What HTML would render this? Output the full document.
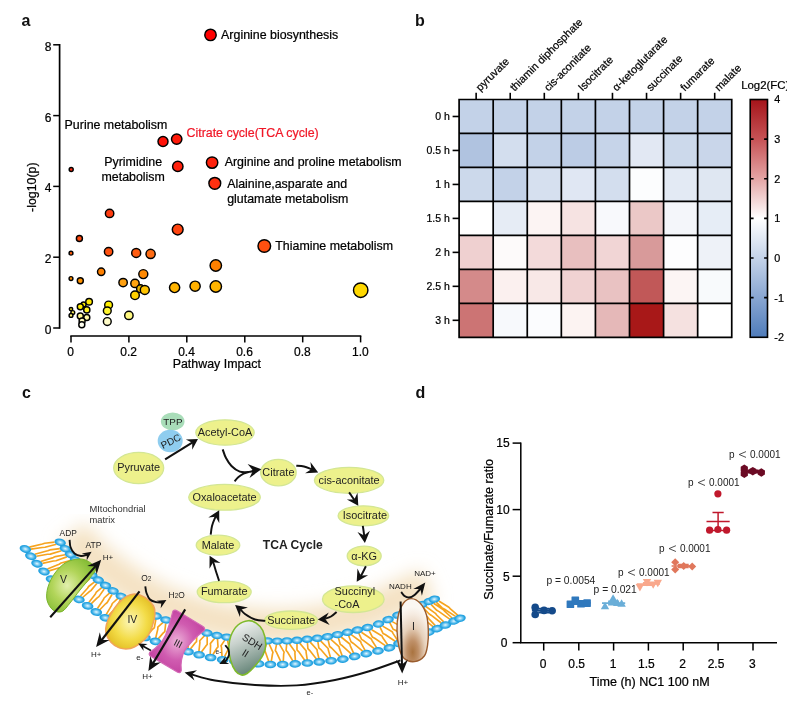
<!DOCTYPE html>
<html><head><meta charset="utf-8"><title>Figure</title>
<style>
html,body{margin:0;padding:0;background:#fff;}
body{width:787px;height:701px;overflow:hidden;font-family:"Liberation Sans",sans-serif;}
svg{display:block;font-family:"Liberation Sans",sans-serif;}
#pa text,#pb text,#pd text{stroke:#000;stroke-width:0.22px;}
</style></head><body>
<svg width="787" height="701" viewBox="0 0 787 701" fill="#000" style="will-change:transform">
<rect width="787" height="701" fill="#fff"/>
<g id="pa">
<text x="21.5" y="26.3" font-size="16" font-weight="bold" fill="#111" style="stroke:none">a</text>
<path d="M59.6 43.9V328.7" stroke="#000" stroke-width="1.7" fill="none"/>
<path d="M53.2 328.0H59.6" stroke="#000" stroke-width="1.5"/>
<text x="51.4" y="333.9" font-size="12" text-anchor="end">0</text>
<path d="M53.2 257.2H59.6" stroke="#000" stroke-width="1.5"/>
<text x="51.4" y="263.1" font-size="12" text-anchor="end">2</text>
<path d="M53.2 186.4H59.6" stroke="#000" stroke-width="1.5"/>
<text x="51.4" y="192.3" font-size="12" text-anchor="end">4</text>
<path d="M53.2 115.6H59.6" stroke="#000" stroke-width="1.5"/>
<text x="51.4" y="121.5" font-size="12" text-anchor="end">6</text>
<path d="M53.2 44.8H59.6" stroke="#000" stroke-width="1.5"/>
<text x="51.4" y="50.7" font-size="12" text-anchor="end">8</text>
<path d="M70.3 336H361.3" stroke="#000" stroke-width="1.5" fill="none"/>
<path d="M71.0 336V342.4" stroke="#000" stroke-width="1.5"/>
<text x="70.7" y="356.0" font-size="12" text-anchor="middle">0</text>
<path d="M128.9 336V342.4" stroke="#000" stroke-width="1.5"/>
<text x="128.6" y="356.0" font-size="12" text-anchor="middle">0.2</text>
<path d="M186.8 336V342.4" stroke="#000" stroke-width="1.5"/>
<text x="186.5" y="356.0" font-size="12" text-anchor="middle">0.4</text>
<path d="M244.8 336V342.4" stroke="#000" stroke-width="1.5"/>
<text x="244.5" y="356.0" font-size="12" text-anchor="middle">0.6</text>
<path d="M302.7 336V342.4" stroke="#000" stroke-width="1.5"/>
<text x="302.4" y="356.0" font-size="12" text-anchor="middle">0.8</text>
<path d="M360.6 336V342.4" stroke="#000" stroke-width="1.5"/>
<text x="360.3" y="356.0" font-size="12" text-anchor="middle">1.0</text>
<text x="216.8" y="368.1" font-size="12.4" text-anchor="middle">Pathway Impact</text>
<text transform="translate(36.1,187.2) rotate(-90)" font-size="12.4" text-anchor="middle">-log10(p)</text>
<circle cx="210.5" cy="34.9" r="5.70" fill="#ff0000" stroke="#000" stroke-width="1.45"/>
<circle cx="163.0" cy="141.5" r="5.00" fill="#ff1208" stroke="#000" stroke-width="1.45"/>
<circle cx="176.7" cy="139.1" r="5.20" fill="#ff1a0a" stroke="#000" stroke-width="1.45"/>
<circle cx="177.8" cy="166.4" r="5.20" fill="#ff200c" stroke="#000" stroke-width="1.45"/>
<circle cx="212.1" cy="162.6" r="5.70" fill="#ff220c" stroke="#000" stroke-width="1.45"/>
<circle cx="214.8" cy="183.3" r="5.90" fill="#ff3010" stroke="#000" stroke-width="1.45"/>
<circle cx="71.2" cy="169.5" r="2.00" fill="#ff2a10" stroke="#000" stroke-width="1.45"/>
<circle cx="109.6" cy="213.4" r="4.20" fill="#ff3c10" stroke="#000" stroke-width="1.45"/>
<circle cx="177.7" cy="229.5" r="5.40" fill="#ff4510" stroke="#000" stroke-width="1.45"/>
<circle cx="79.4" cy="238.4" r="3.00" fill="#ff4a10" stroke="#000" stroke-width="1.45"/>
<circle cx="264.3" cy="246.0" r="6.30" fill="#ff5010" stroke="#000" stroke-width="1.45"/>
<circle cx="71.0" cy="253.2" r="1.90" fill="#ff5a08" stroke="#000" stroke-width="1.45"/>
<circle cx="108.6" cy="251.7" r="4.20" fill="#ff5210" stroke="#000" stroke-width="1.45"/>
<circle cx="136.2" cy="252.9" r="4.50" fill="#ff5c10" stroke="#000" stroke-width="1.45"/>
<circle cx="150.6" cy="253.9" r="4.60" fill="#ff6c14" stroke="#000" stroke-width="1.45"/>
<circle cx="215.8" cy="265.5" r="5.70" fill="#ff8000" stroke="#000" stroke-width="1.45"/>
<circle cx="101.2" cy="271.8" r="3.70" fill="#ff8000" stroke="#000" stroke-width="1.45"/>
<circle cx="143.3" cy="274.1" r="4.50" fill="#ff8800" stroke="#000" stroke-width="1.45"/>
<circle cx="71.0" cy="278.5" r="1.90" fill="#ff9000" stroke="#000" stroke-width="1.45"/>
<circle cx="80.3" cy="280.8" r="3.00" fill="#ff9200" stroke="#000" stroke-width="1.45"/>
<circle cx="123.1" cy="282.6" r="4.20" fill="#ffa010" stroke="#000" stroke-width="1.45"/>
<circle cx="135.0" cy="283.4" r="4.20" fill="#ffa410" stroke="#000" stroke-width="1.45"/>
<circle cx="140.5" cy="288.7" r="3.90" fill="#e8b400" stroke="#000" stroke-width="1.45"/>
<circle cx="144.8" cy="289.9" r="4.50" fill="#ffc400" stroke="#000" stroke-width="1.45"/>
<circle cx="135.0" cy="295.3" r="4.30" fill="#ffd000" stroke="#000" stroke-width="1.45"/>
<circle cx="174.6" cy="287.5" r="5.10" fill="#ffb400" stroke="#000" stroke-width="1.45"/>
<circle cx="195.1" cy="286.2" r="5.10" fill="#ffb000" stroke="#000" stroke-width="1.45"/>
<circle cx="215.8" cy="286.5" r="5.70" fill="#ffb400" stroke="#000" stroke-width="1.45"/>
<circle cx="360.7" cy="290.2" r="7.20" fill="#ffd800" stroke="#000" stroke-width="1.45"/>
<circle cx="83.6" cy="304.4" r="2.50" fill="#ffee00" stroke="#000" stroke-width="1.45"/>
<circle cx="89.1" cy="301.7" r="3.30" fill="#ffe800" stroke="#000" stroke-width="1.45"/>
<circle cx="80.3" cy="306.7" r="3.00" fill="#ffee00" stroke="#000" stroke-width="1.45"/>
<circle cx="86.8" cy="309.9" r="3.10" fill="#fff020" stroke="#000" stroke-width="1.45"/>
<circle cx="71.0" cy="309.1" r="1.70" fill="#ffee20" stroke="#000" stroke-width="1.45"/>
<circle cx="72.8" cy="312.5" r="1.90" fill="#fff260" stroke="#000" stroke-width="1.45"/>
<circle cx="71.0" cy="315.4" r="1.90" fill="#fff470" stroke="#000" stroke-width="1.45"/>
<circle cx="80.3" cy="315.9" r="3.00" fill="#fff690" stroke="#000" stroke-width="1.45"/>
<circle cx="86.8" cy="317.5" r="3.00" fill="#fff8a8" stroke="#000" stroke-width="1.45"/>
<circle cx="82.1" cy="321.0" r="3.00" fill="#fffac0" stroke="#000" stroke-width="1.45"/>
<circle cx="81.8" cy="324.8" r="3.00" fill="#fffff0" stroke="#000" stroke-width="1.45"/>
<circle cx="108.6" cy="305.0" r="3.90" fill="#ffee00" stroke="#000" stroke-width="1.45"/>
<circle cx="107.3" cy="310.8" r="3.90" fill="#fff530" stroke="#000" stroke-width="1.45"/>
<circle cx="107.3" cy="321.5" r="3.90" fill="#fffcc8" stroke="#000" stroke-width="1.45"/>
<circle cx="128.9" cy="315.4" r="4.20" fill="#fff880" stroke="#000" stroke-width="1.45"/>
<text x="221.1" y="38.5" font-size="12.4">Arginine biosynthesis</text>
<text x="64.6" y="128.9" font-size="12.4">Purine metabolism</text>
<text x="186.5" y="136.7" font-size="12.4" fill="#f01828" style="stroke:#f01828">Citrate cycle(TCA cycle)</text>
<text x="133.2" y="166" font-size="12.4" text-anchor="middle">Pyrimidine</text>
<text x="133.2" y="180.9" font-size="12.4" text-anchor="middle">metabolism</text>
<text x="224.7" y="166" font-size="12.4">Arginine and proline metabolism</text>
<text x="227.2" y="187.6" font-size="12.4">Alainine,asparate and</text>
<text x="227.2" y="202.7" font-size="12.4">glutamate metabolism</text>
<text x="275.3" y="249.5" font-size="12.4">Thiamine metabolism</text>
</g>
<g id="pb">
<text x="415" y="26.3" font-size="16" font-weight="bold" fill="#111" style="stroke:none">b</text>
<rect x="459.10" y="99.50" width="34.08" height="33.97" fill="#c3d2e8"/>
<rect x="493.18" y="99.50" width="34.08" height="33.97" fill="#c3d2e8"/>
<rect x="527.26" y="99.50" width="34.08" height="33.97" fill="#c3d2e8"/>
<rect x="561.34" y="99.50" width="34.08" height="33.97" fill="#c3d2e8"/>
<rect x="595.42" y="99.50" width="34.08" height="33.97" fill="#c3d2e8"/>
<rect x="629.50" y="99.50" width="34.08" height="33.97" fill="#c3d2e8"/>
<rect x="663.58" y="99.50" width="34.08" height="33.97" fill="#c3d2e8"/>
<rect x="697.66" y="99.50" width="34.08" height="33.97" fill="#c3d2e8"/>
<rect x="459.10" y="133.47" width="34.08" height="33.97" fill="#b0c3e0"/>
<rect x="493.18" y="133.47" width="34.08" height="33.97" fill="#d3deee"/>
<rect x="527.26" y="133.47" width="34.08" height="33.97" fill="#c3d2e8"/>
<rect x="561.34" y="133.47" width="34.08" height="33.97" fill="#bccce5"/>
<rect x="595.42" y="133.47" width="34.08" height="33.97" fill="#c6d4e9"/>
<rect x="629.50" y="133.47" width="34.08" height="33.97" fill="#e2e8f3"/>
<rect x="663.58" y="133.47" width="34.08" height="33.97" fill="#ccd9eb"/>
<rect x="697.66" y="133.47" width="34.08" height="33.97" fill="#c9d6ea"/>
<rect x="459.10" y="167.44" width="34.08" height="33.97" fill="#ccd9eb"/>
<rect x="493.18" y="167.44" width="34.08" height="33.97" fill="#c3d2e8"/>
<rect x="527.26" y="167.44" width="34.08" height="33.97" fill="#d6e0ef"/>
<rect x="561.34" y="167.44" width="34.08" height="33.97" fill="#e0e7f3"/>
<rect x="595.42" y="167.44" width="34.08" height="33.97" fill="#d3deee"/>
<rect x="629.50" y="167.44" width="34.08" height="33.97" fill="#fcfdfe"/>
<rect x="663.58" y="167.44" width="34.08" height="33.97" fill="#e3eaf4"/>
<rect x="697.66" y="167.44" width="34.08" height="33.97" fill="#dfe7f2"/>
<rect x="459.10" y="201.41" width="34.08" height="33.97" fill="#ffffff"/>
<rect x="493.18" y="201.41" width="34.08" height="33.97" fill="#e6ecf5"/>
<rect x="527.26" y="201.41" width="34.08" height="33.97" fill="#fcf4f3"/>
<rect x="561.34" y="201.41" width="34.08" height="33.97" fill="#f6e3e2"/>
<rect x="595.42" y="201.41" width="34.08" height="33.97" fill="#f8f9fc"/>
<rect x="629.50" y="201.41" width="34.08" height="33.97" fill="#ebc8c7"/>
<rect x="663.58" y="201.41" width="34.08" height="33.97" fill="#f4f6fa"/>
<rect x="697.66" y="201.41" width="34.08" height="33.97" fill="#e6edf6"/>
<rect x="459.10" y="235.38" width="34.08" height="33.97" fill="#efd0d0"/>
<rect x="493.18" y="235.38" width="34.08" height="33.97" fill="#fdfafa"/>
<rect x="527.26" y="235.38" width="34.08" height="33.97" fill="#f3dada"/>
<rect x="561.34" y="235.38" width="34.08" height="33.97" fill="#e8bfbf"/>
<rect x="595.42" y="235.38" width="34.08" height="33.97" fill="#f1d5d5"/>
<rect x="629.50" y="235.38" width="34.08" height="33.97" fill="#d89a9a"/>
<rect x="663.58" y="235.38" width="34.08" height="33.97" fill="#fdfdfe"/>
<rect x="697.66" y="235.38" width="34.08" height="33.97" fill="#eef2f8"/>
<rect x="459.10" y="269.35" width="34.08" height="33.97" fill="#d48a8a"/>
<rect x="493.18" y="269.35" width="34.08" height="33.97" fill="#fbf0ef"/>
<rect x="527.26" y="269.35" width="34.08" height="33.97" fill="#f8e8e7"/>
<rect x="561.34" y="269.35" width="34.08" height="33.97" fill="#f0d2d2"/>
<rect x="595.42" y="269.35" width="34.08" height="33.97" fill="#e9c2c2"/>
<rect x="629.50" y="269.35" width="34.08" height="33.97" fill="#c15858"/>
<rect x="663.58" y="269.35" width="34.08" height="33.97" fill="#fcf5f4"/>
<rect x="697.66" y="269.35" width="34.08" height="33.97" fill="#f8fafc"/>
<rect x="459.10" y="303.32" width="34.08" height="33.97" fill="#cc7474"/>
<rect x="493.18" y="303.32" width="34.08" height="33.97" fill="#f7f9fc"/>
<rect x="527.26" y="303.32" width="34.08" height="33.97" fill="#fbfcfe"/>
<rect x="561.34" y="303.32" width="34.08" height="33.97" fill="#fcf3f2"/>
<rect x="595.42" y="303.32" width="34.08" height="33.97" fill="#e5b8b8"/>
<rect x="629.50" y="303.32" width="34.08" height="33.97" fill="#a81818"/>
<rect x="663.58" y="303.32" width="34.08" height="33.97" fill="#f5e1e0"/>
<rect x="697.66" y="303.32" width="34.08" height="33.97" fill="#ffffff"/>
<path d="M459.10 98.80V337.99M493.18 98.80V337.99M527.26 98.80V337.99M561.34 98.80V337.99M595.42 98.80V337.99M629.50 98.80V337.99M663.58 98.80V337.99M697.66 98.80V337.99M731.74 98.80V337.99M458.40 99.50H732.44M458.40 133.47H732.44M458.40 167.44H732.44M458.40 201.41H732.44M458.40 235.38H732.44M458.40 269.35H732.44M458.40 303.32H732.44M458.40 337.29H732.44" stroke="#000" stroke-width="1.7" fill="none"/>
<path d="M476.14 92.8V99.5" stroke="#000" stroke-width="1.6"/>
<text transform="translate(480.34,91.8) rotate(-45)" font-size="10.9">pyruvate</text>
<path d="M510.22 92.8V99.5" stroke="#000" stroke-width="1.6"/>
<text transform="translate(514.42,91.8) rotate(-45)" font-size="10.9">thiamin diphosphate</text>
<path d="M544.30 92.8V99.5" stroke="#000" stroke-width="1.6"/>
<text transform="translate(548.50,91.8) rotate(-45)" font-size="10.9">cis-aconitate</text>
<path d="M578.38 92.8V99.5" stroke="#000" stroke-width="1.6"/>
<text transform="translate(582.58,91.8) rotate(-45)" font-size="10.9">Isocitrate</text>
<path d="M612.46 92.8V99.5" stroke="#000" stroke-width="1.6"/>
<text transform="translate(616.66,91.8) rotate(-45)" font-size="10.9">α-ketoglutarate</text>
<path d="M646.54 92.8V99.5" stroke="#000" stroke-width="1.6"/>
<text transform="translate(650.74,91.8) rotate(-45)" font-size="10.9">succinate</text>
<path d="M680.62 92.8V99.5" stroke="#000" stroke-width="1.6"/>
<text transform="translate(684.82,91.8) rotate(-45)" font-size="10.9">fumarate</text>
<path d="M714.70 92.8V99.5" stroke="#000" stroke-width="1.6"/>
<text transform="translate(718.90,91.8) rotate(-45)" font-size="10.9">malate</text>
<path d="M452.6 116.48H459.1" stroke="#000" stroke-width="1.6"/>
<text x="449.8" y="120.28" font-size="10.5" text-anchor="end">0 h</text>
<path d="M452.6 150.45H459.1" stroke="#000" stroke-width="1.6"/>
<text x="449.8" y="154.25" font-size="10.5" text-anchor="end">0.5 h</text>
<path d="M452.6 184.43H459.1" stroke="#000" stroke-width="1.6"/>
<text x="449.8" y="188.23" font-size="10.5" text-anchor="end">1 h</text>
<path d="M452.6 218.39H459.1" stroke="#000" stroke-width="1.6"/>
<text x="449.8" y="222.19" font-size="10.5" text-anchor="end">1.5 h</text>
<path d="M452.6 252.37H459.1" stroke="#000" stroke-width="1.6"/>
<text x="449.8" y="256.17" font-size="10.5" text-anchor="end">2 h</text>
<path d="M452.6 286.33H459.1" stroke="#000" stroke-width="1.6"/>
<text x="449.8" y="290.13" font-size="10.5" text-anchor="end">2.5 h</text>
<path d="M452.6 320.31H459.1" stroke="#000" stroke-width="1.6"/>
<text x="449.8" y="324.11" font-size="10.5" text-anchor="end">3 h</text>
<defs><linearGradient id="cb" x1="0" y1="0" x2="0" y2="1"><stop offset="0" stop-color="#a5141a"/><stop offset="0.17" stop-color="#c75457"/><stop offset="0.33" stop-color="#e3a3a3"/><stop offset="0.5" stop-color="#ffffff"/><stop offset="0.67" stop-color="#c3d2e8"/><stop offset="0.83" stop-color="#8aa7d2"/><stop offset="1" stop-color="#4f7cba"/></linearGradient></defs>
<rect x="750.2" y="99.5" width="17.3" height="237.79" fill="url(#cb)" stroke="#000" stroke-width="1.6"/>
<text x="774.3" y="103.40" font-size="10.8">4</text>
<path d="M750.2 139.13h3.4M767.5 139.13h-3.4" stroke="#000" stroke-width="1.6"/>
<text x="774.3" y="143.03" font-size="10.8">3</text>
<path d="M750.2 178.76h3.4M767.5 178.76h-3.4" stroke="#000" stroke-width="1.6"/>
<text x="774.3" y="182.66" font-size="10.8">2</text>
<path d="M750.2 218.39h3.4M767.5 218.39h-3.4" stroke="#000" stroke-width="1.6"/>
<text x="774.3" y="222.29" font-size="10.8">1</text>
<path d="M750.2 258.03h3.4M767.5 258.03h-3.4" stroke="#000" stroke-width="1.6"/>
<text x="774.3" y="261.93" font-size="10.8">0</text>
<path d="M750.2 297.66h3.4M767.5 297.66h-3.4" stroke="#000" stroke-width="1.6"/>
<text x="774.3" y="301.56" font-size="10.8">-1</text>
<text x="774.3" y="341.19" font-size="10.8">-2</text>
<text x="741.2" y="89.4" font-size="11.4">Log2(FC)</text>
</g>
<g id="pc">
<defs><radialGradient id="lh" cx="0.5" cy="0.5" r="0.55"><stop offset="0" stop-color="#eaf9ff"/><stop offset="0.3" stop-color="#8fd4f5"/><stop offset="0.7" stop-color="#2aa6e2"/><stop offset="1" stop-color="#1c9bdc"/></radialGradient><filter id="bl" x="-20%" y="-20%" width="140%" height="140%"><feGaussianBlur stdDeviation="9"/></filter><radialGradient id="gV" cx="0.42" cy="0.5" r="0.6"><stop offset="0" stop-color="#e2efae"/><stop offset="0.5" stop-color="#b2d55a"/><stop offset="1" stop-color="#86bd36"/></radialGradient><radialGradient id="gIV" cx="0.5" cy="0.5" r="0.6"><stop offset="0" stop-color="#fcf6b8"/><stop offset="0.55" stop-color="#f3dc48"/><stop offset="1" stop-color="#e0b81c"/></radialGradient><radialGradient id="gIII" cx="0.5" cy="0.5" r="0.6"><stop offset="0" stop-color="#ecb0d8"/><stop offset="0.5" stop-color="#d05cb0"/><stop offset="1" stop-color="#bf3a9c"/></radialGradient><linearGradient id="gS" x1="0.3" y1="0" x2="0.6" y2="1"><stop offset="0" stop-color="#f4f6f4"/><stop offset="0.35" stop-color="#c9d2cd"/><stop offset="1" stop-color="#5e7f72"/></linearGradient><radialGradient id="gI" cx="0.5" cy="0.85" r="0.72"><stop offset="0" stop-color="#a9733f"/><stop offset="0.25" stop-color="#bf9068"/><stop offset="0.55" stop-color="#e6d0ba"/><stop offset="0.85" stop-color="#f6ece2"/><stop offset="1" stop-color="#fbf7f2"/></radialGradient></defs>
<text x="22" y="397.6" font-size="16" font-weight="bold" fill="#111">c</text>
<path d="M71.9 532.9L75.6 537.6L80.8 543.7L86.7 550.1L93.2 556.5L99.2 561.7L106.9 567.7L117.4 575.5L130.3 584.3L145.7 593.8L163.9 603L188.5 611.9L212.7 619.1L228.3 622.2L241.6 623.7L255.8 625.1L268.6 625.9L279.9 626.1L289.4 625.8L294.6 625.5L300.5 624.8L311 623.8L322.1 622.4L332.3 620.4L342.7 618L353.3 615.6L362.5 613.3L367.3 612.2L371.1 610.8L379.3 607.2L389.1 602.7L399 598.2L409 593.8L420 589L428.4 585.4" stroke="#f4e2c3" stroke-width="34" fill="none" filter="url(#bl)" stroke-linecap="butt"/>
<path d="M60.2 542.3L61.4 543.8L63.1 545.9L65.1 548.4L67.3 551.1L69.6 553.7L72 556.3L74.6 559.1L77.3 562L80.2 564.8L83 567.5L85.7 569.9L88.4 572.2L91.1 574.5L94.2 576.9L97.8 579.6L101.9 582.7L106.3 586L111.2 589.5L116.4 593.2L122.2 596.9L128.4 600.8L135 604.8L142 608.9L149.7 613L158 616.8L167.5 620.5L178.3 624.3L189.3 627.9L199.8 631L209 633.6L216.5 635.4L223 636.6L228.8 637.4L234.3 638L240 638.6L245.9 639.3L251.7 639.8L257.4 640.3L262.8 640.6L268 640.9L272.9 641L277.7 641.1L282.2 641L286.3 640.9L290 640.8L292.9 640.7L295 640.5L296.9 640.3L299.1 640L302 639.7L305.8 639.3L310.3 638.9L315.1 638.4L319.9 637.9L324.5 637.2L328.9 636.4L333.2 635.5L337.5 634.5L341.8 633.6L346 632.6L350.3 631.6L354.6 630.7L358.8 629.7L362.7 628.7L366.1 627.9L368.7 627.2L370.7 626.8L372.4 626.3L374.3 625.6L376.8 624.7L380 623.4L383.6 621.7L387.4 619.9L391.4 618.1L395.3 616.3L399.2 614.6L403.1 612.8L407.1 611L411.1 609.2L415 607.5L419.2 605.7L423.7 603.7L428 601.9L431.7 600.3L434.3 599.2L434.3 599.2L459.9 618.3L459.9 618.3L456.9 619.7L452.6 621.7L447.7 624L442.6 626.3L438 628.3L433.9 630L429.9 631.7L426 633.2L422 634.7L418 636.3L413.7 637.9L409.2 639.6L404.7 641.2L400.6 642.8L397.2 644.1L394.8 645.1L393.3 646L392.1 646.7L390.5 647.4L387.9 648.3L384.2 649.3L379.7 650.5L374.7 651.6L369.6 652.8L364.6 654L359.7 655.2L354.7 656.4L349.6 657.6L344.5 658.8L339.4 659.7L334 660.5L328.4 661.1L322.9 661.6L317.7 662L313.2 662.4L309.8 662.8L307.3 663L305.1 663.3L302.5 663.5L299 663.7L294.3 663.9L289 664.2L283.2 664.5L277.1 664.6L271 664.5L264.9 664.2L258.8 663.8L252.4 663.3L245.8 662.6L239 661.8L232.1 660.9L225.2 660L217.9 658.9L210.1 657.4L201.4 655.4L191.4 652.7L180.2 649.5L168.6 645.8L157.3 642.1L147 638.3L137.8 634.5L129.2 630.6L121.2 626.5L113.6 622.5L106.5 618.5L100 614.5L94.1 610.5L88.6 606.5L83.3 602.6L78.2 598.9L73.2 595.5L68.4 592.3L63.7 589.2L59.3 586L55 582.5L50.8 578.6L46.7 574.4L42.7 570.1L39.1 566.1L35.9 562.4L33.1 559.1L30.6 555.9L28.4 553.1L26.7 550.7L25.4 549Z" fill="#fff"/><path d="M56.4 544.3L45 547.3L42.2 547.5L30.9 549.1M54.6 542.1L44.7 543.2L42.4 544L29.3 547.1M61.5 550.8L50.3 554.1L47.5 554.3L36.3 556.2M59.8 548.6L49.9 549.9L47.7 550.8L34.7 554.2M66.8 556.9L56 560.7L53.3 561L42.4 563.4M65 554.8L55.4 556.6L53.2 557.6L40.7 561.5M72.2 562.6L62 567.2L59.4 567.7L49.1 570.9M70.2 560.6L61.1 563L59.1 564.2L47.4 569M77.7 568.2L68.4 573.6L66 574.3L56.4 578.3M75.7 566.2L67.2 569.4L65.4 570.7L54.5 576.5M83.7 573.4L75.5 579.5L73.2 580.4L64.6 585.2M81.5 571.7L73.8 575.5L72.2 576.9L62.6 583.5M90 578.4L83.1 585L81.1 586.1L73.7 591.4M87.7 576.7L81 581L79.7 582.6L71.6 589.9M96.8 583.5L90.9 590.6L89.1 591.8L82.6 597.5M94.6 581.8L88.6 586.5L87.5 588.2L80.5 596M104.2 589L98.9 596.6L97.2 597.8L91.1 603.8M102 587.3L96.3 592.2L95.4 594L89 602.3M112 594.5L107.2 602.5L105.6 603.8L99.6 610M109.7 592.9L104.1 598L103.3 599.8L97.4 608.5M120.3 599.8L116.1 608.1L114.4 609.4L108.5 615.6M117.9 598.4L112.3 603.5L111.6 605.4L106.3 614.3M128.7 605L125.2 613.4L123.6 614.7L117.9 620.9M126.3 603.6L120.8 608.6L120.3 610.5L115.6 619.6M137.4 610.2L134.5 618.6L133 619.8L127.5 626M134.9 608.9L129.6 613.8L129.2 615.7L125.2 624.7M146.4 615.1L144.2 623.4L142.7 624.7L137.4 630.7M143.9 613.9L138.6 618.7L138.3 620.5L135.1 629.6M155.8 619.5L154.3 627.8L152.8 629L147.7 635M153.3 618.4L148 623.2L147.9 625.1L145.3 634M165.7 623.4L164.8 631.6L163.3 632.9L158.2 638.9M163.1 622.4L157.8 627.2L157.8 629.1L155.7 638M176 627L175.3 635.2L173.9 636.5L168.8 642.5M173.3 626.1L168.1 631L168.1 632.8L166.4 641.7M186.4 630.4L185.9 638.5L184.5 639.8L179.6 645.9M183.7 629.6L178.5 634.5L178.6 636.2L177.1 645.1M196.8 633.5L196.5 641.6L195.1 643L190.4 649.1M194.1 632.8L189.1 637.7L189.2 639.5L187.9 648.3M207.2 636.5L207.2 644.5L205.9 645.9L201.4 652.1M204.5 635.7L199.7 640.8L199.9 642.6L198.9 651.4M217.5 638.9L218 646.9L216.8 648.3L212.8 654.7M214.7 638.3L210.3 643.6L210.6 645.3L210.2 654.2M227.6 640.4L229 648.5L227.9 650L224.5 656.7M224.8 640.1L221 645.7L221.5 647.4L222 656.4M237.8 641.5L240 649.7L239 651.3L236.4 658.3M235 641.2L231.7 647.1L232.4 648.8L233.8 658M248.1 642.7L250.9 651L250.2 652.6L248.1 659.7M245.4 642.4L242.6 648.4L243.4 650.2L245.5 659.5M258.7 643.5L262 651.8L261.3 653.5L259.6 660.8M255.9 643.3L253.5 649.5L254.4 651.3L257 660.6M269.2 644.1L273 652.3L272.5 654L271.3 661.4M266.4 644L264.4 650.3L265.4 652L268.7 661.3M279.4 644.2L284.1 652.2L283.7 653.9L283.3 661.3M276.6 644.2L275.3 650.6L276.5 652.3L280.7 661.4M289.5 643.9L295.1 651.7L294.9 653.4L295.4 660.8M286.7 644L286.1 650.4L287.5 652L292.8 660.9M299.7 643.1L306.1 650.7L306.1 652.4L307.3 659.9M297 643.5L297 650L298.6 651.6L304.7 660.2M310.2 642.1L317.1 649.7L317.2 651.4L319 658.8M307.4 642.3L307.9 648.7L309.6 650.3L316.4 659M320.6 640.9L328.1 648.5L328.4 650.3L330.6 657.7M317.8 641.2L318.8 647.8L320.6 649.3L328.1 658M330.9 639.3L339 646.6L339.4 648.4L342.2 655.9M328.1 639.8L329.6 646.5L331.6 648L339.7 656.4M341.1 637L349.8 644L350.3 645.8L353.7 653.3M338.4 637.7L340.3 644.4L342.4 645.8L351.2 653.9M351.2 634.7L360.6 641.5L361.2 643.3L365.2 650.6M348.5 635.3L351 641.8L353.1 643.2L362.6 651.2M361.4 632.3L371.3 639L372.1 640.7L376.7 647.9M358.7 633L361.6 639.4L363.9 640.8L374.1 648.5M371.7 629.7L382 636L382.8 637.8L387.8 644.9M369 630.5L372.3 636.9L374.7 638.2L385.3 645.6M382.6 626.1L392.2 631.7L393 633.4L397.5 640.3M380 627.1L383 633.4L385.2 634.5L395.1 641.3M392.3 621.6L402.5 627.4L403.3 629.2L408.3 636.2M389.7 622.7L393.1 629.2L395.4 630.3L405.9 637.2M402.1 617.1L411.2 623.7L412.4 625.4L419 632.2M399.5 618.2L404.7 624.2L406.9 625.6L416.6 633.2M410.1 613.5L419.3 620.3L420.6 622L427.2 629M407.6 614.6L412.8 620.8L415 622.1L424.8 630M418.2 609.9L427.4 616.8L428.7 618.6L435.3 625.6M415.6 611L420.9 617.3L423.1 618.7L433 626.7M425.9 606.5L435.4 613.3L436.7 615L443.7 621.9M423.4 607.7L428.9 613.8L431.1 615.2L441.3 623M433.6 603.3L443.4 609.7L444.8 611.4L452.1 618M431 604.4L436.8 610.3L439.1 611.6L449.7 619.1M438.8 601L448.9 607.3L450.4 608.9L457.9 615.4M436.2 602.2L442.2 607.9L444.6 609.2L455.5 616.4" stroke="#f6a41f" stroke-width="1.65" fill="none" stroke-linejoin="round"/><ellipse cx="60.2" cy="542.3" rx="5.8" ry="3.7" transform="rotate(15.2 60.2 542.3)" fill="url(#lh)"/><ellipse cx="25.4" cy="549" rx="5.9" ry="3.8" transform="rotate(15.6 25.4 549)" fill="url(#lh)"/><ellipse cx="65.3" cy="548.7" rx="5.8" ry="3.7" transform="rotate(15.2 65.3 548.7)" fill="url(#lh)"/><ellipse cx="30.8" cy="556.2" rx="5.9" ry="3.8" transform="rotate(15.7 30.8 556.2)" fill="url(#lh)"/><ellipse cx="70.4" cy="554.6" rx="5.8" ry="3.7" transform="rotate(14.3 70.4 554.6)" fill="url(#lh)"/><ellipse cx="37" cy="563.7" rx="5.9" ry="3.8" transform="rotate(14.6 37 563.7)" fill="url(#lh)"/><ellipse cx="75.5" cy="560.1" rx="5.8" ry="3.7" transform="rotate(13.9 75.5 560.1)" fill="url(#lh)"/><ellipse cx="44" cy="571.5" rx="5.9" ry="3.8" transform="rotate(14.3 44 571.5)" fill="url(#lh)"/><ellipse cx="80.7" cy="565.3" rx="5.8" ry="3.7" transform="rotate(13.2 80.7 565.3)" fill="url(#lh)"/><ellipse cx="51.5" cy="579.3" rx="5.9" ry="3.8" transform="rotate(13.1 51.5 579.3)" fill="url(#lh)"/><ellipse cx="86.2" cy="570.3" rx="5.8" ry="3.7" transform="rotate(12.3 86.2 570.3)" fill="url(#lh)"/><ellipse cx="60" cy="586.5" rx="5.9" ry="3.8" transform="rotate(11 60 586.5)" fill="url(#lh)"/><ellipse cx="91.9" cy="575.1" rx="5.8" ry="3.7" transform="rotate(11.5 91.9 575.1)" fill="url(#lh)"/><ellipse cx="69.6" cy="593.1" rx="5.9" ry="3.8" transform="rotate(10 69.6 593.1)" fill="url(#lh)"/><ellipse cx="98.3" cy="580" rx="5.8" ry="3.7" transform="rotate(11.1 98.3 580)" fill="url(#lh)"/><ellipse cx="78.9" cy="599.4" rx="5.9" ry="3.8" transform="rotate(10.6 78.9 599.4)" fill="url(#lh)"/><ellipse cx="105.5" cy="585.4" rx="5.8" ry="3.7" transform="rotate(11 105.5 585.4)" fill="url(#lh)"/><ellipse cx="87.6" cy="605.8" rx="5.9" ry="3.8" transform="rotate(11 87.6 605.8)" fill="url(#lh)"/><ellipse cx="113.1" cy="590.9" rx="5.8" ry="3.7" transform="rotate(10.4 113.1 590.9)" fill="url(#lh)"/><ellipse cx="96.3" cy="612" rx="5.9" ry="3.8" transform="rotate(10.3 96.3 612)" fill="url(#lh)"/><ellipse cx="121.2" cy="596.3" rx="5.8" ry="3.7" transform="rotate(9.6 121.2 596.3)" fill="url(#lh)"/><ellipse cx="105.3" cy="617.8" rx="5.9" ry="3.8" transform="rotate(9.1 105.3 617.8)" fill="url(#lh)"/><ellipse cx="129.5" cy="601.4" rx="5.8" ry="3.7" transform="rotate(9.6 129.5 601.4)" fill="url(#lh)"/><ellipse cx="114.8" cy="623.2" rx="5.9" ry="3.8" transform="rotate(8.6 114.8 623.2)" fill="url(#lh)"/><ellipse cx="138" cy="606.6" rx="5.8" ry="3.7" transform="rotate(9.1 138 606.6)" fill="url(#lh)"/><ellipse cx="124.6" cy="628.3" rx="5.9" ry="3.8" transform="rotate(8 124.6 628.3)" fill="url(#lh)"/><ellipse cx="146.8" cy="611.5" rx="5.8" ry="3.7" transform="rotate(8.2 146.8 611.5)" fill="url(#lh)"/><ellipse cx="134.6" cy="633.1" rx="5.9" ry="3.8" transform="rotate(7.3 134.6 633.1)" fill="url(#lh)"/><ellipse cx="156.1" cy="616" rx="5.8" ry="3.7" transform="rotate(7.1 156.1 616)" fill="url(#lh)"/><ellipse cx="144.9" cy="637.5" rx="5.9" ry="3.8" transform="rotate(6.5 144.9 637.5)" fill="url(#lh)"/><ellipse cx="165.9" cy="619.9" rx="5.8" ry="3.7" transform="rotate(6.2 165.9 619.9)" fill="url(#lh)"/><ellipse cx="155.5" cy="641.4" rx="5.9" ry="3.8" transform="rotate(5.9 155.5 641.4)" fill="url(#lh)"/><ellipse cx="176" cy="623.6" rx="5.8" ry="3.7" transform="rotate(5.6 176 623.6)" fill="url(#lh)"/><ellipse cx="166.2" cy="645.1" rx="5.9" ry="3.8" transform="rotate(5.4 166.2 645.1)" fill="url(#lh)"/><ellipse cx="186.3" cy="626.9" rx="5.8" ry="3.7" transform="rotate(5.3 186.3 626.9)" fill="url(#lh)"/><ellipse cx="177" cy="648.5" rx="5.9" ry="3.8" transform="rotate(5.1 177 648.5)" fill="url(#lh)"/><ellipse cx="196.7" cy="630.1" rx="5.8" ry="3.7" transform="rotate(5 196.7 630.1)" fill="url(#lh)"/><ellipse cx="188" cy="651.7" rx="5.9" ry="3.8" transform="rotate(4.8 188 651.7)" fill="url(#lh)"/><ellipse cx="206.9" cy="633" rx="5.8" ry="3.7" transform="rotate(4.5 206.9 633)" fill="url(#lh)"/><ellipse cx="199.1" cy="654.8" rx="5.9" ry="3.8" transform="rotate(4.4 199.1 654.8)" fill="url(#lh)"/><ellipse cx="217" cy="635.5" rx="5.8" ry="3.7" transform="rotate(3.5 217 635.5)" fill="url(#lh)"/><ellipse cx="210.6" cy="657.5" rx="5.9" ry="3.8" transform="rotate(3.5 210.6 657.5)" fill="url(#lh)"/><ellipse cx="226.8" cy="637.1" rx="5.8" ry="3.7" transform="rotate(2.2 226.8 637.1)" fill="url(#lh)"/><ellipse cx="222.7" cy="659.7" rx="5.9" ry="3.8" transform="rotate(2.5 222.7 659.7)" fill="url(#lh)"/><ellipse cx="236.6" cy="638.2" rx="5.8" ry="3.7" transform="rotate(1.9 236.6 638.2)" fill="url(#lh)"/><ellipse cx="234.9" cy="661.3" rx="5.9" ry="3.8" transform="rotate(2.1 234.9 661.3)" fill="url(#lh)"/><ellipse cx="246.7" cy="639.4" rx="5.8" ry="3.7" transform="rotate(1.7 246.7 639.4)" fill="url(#lh)"/><ellipse cx="246.8" cy="662.7" rx="5.9" ry="3.8" transform="rotate(1.9 246.8 662.7)" fill="url(#lh)"/><ellipse cx="257.1" cy="640.3" rx="5.8" ry="3.7" transform="rotate(1.3 257.1 640.3)" fill="url(#lh)"/><ellipse cx="258.5" cy="663.8" rx="5.9" ry="3.8" transform="rotate(1.3 258.5 663.8)" fill="url(#lh)"/><ellipse cx="267.5" cy="640.9" rx="5.8" ry="3.7" transform="rotate(0.8 267.5 640.9)" fill="url(#lh)"/><ellipse cx="270.4" cy="664.5" rx="5.9" ry="3.8" transform="rotate(0.6 270.4 664.5)" fill="url(#lh)"/><ellipse cx="277.3" cy="641.1" rx="5.8" ry="3.7" transform="rotate(-0 277.3 641.1)" fill="url(#lh)"/><ellipse cx="282.7" cy="664.5" rx="5.9" ry="3.8" transform="rotate(-0.5 282.7 664.5)" fill="url(#lh)"/><ellipse cx="287" cy="640.9" rx="5.8" ry="3.7" transform="rotate(-0.5 287 640.9)" fill="url(#lh)"/><ellipse cx="295.2" cy="663.9" rx="5.9" ry="3.8" transform="rotate(-0.9 295.2 663.9)" fill="url(#lh)"/><ellipse cx="297" cy="640.3" rx="5.8" ry="3.7" transform="rotate(-2.1 297 640.3)" fill="url(#lh)"/><ellipse cx="307.4" cy="663" rx="5.9" ry="3.8" transform="rotate(-2 307.4 663)" fill="url(#lh)"/><ellipse cx="307.2" cy="639.2" rx="5.8" ry="3.7" transform="rotate(-1.6 307.2 639.2)" fill="url(#lh)"/><ellipse cx="319.2" cy="661.9" rx="5.9" ry="3.8" transform="rotate(-1.4 319.2 661.9)" fill="url(#lh)"/><ellipse cx="317.4" cy="638.2" rx="5.8" ry="3.7" transform="rotate(-2 317.4 638.2)" fill="url(#lh)"/><ellipse cx="331.1" cy="660.8" rx="5.9" ry="3.8" transform="rotate(-1.8 331.1 660.8)" fill="url(#lh)"/><ellipse cx="327.5" cy="636.7" rx="5.8" ry="3.7" transform="rotate(-3.1 327.5 636.7)" fill="url(#lh)"/><ellipse cx="342.9" cy="659.1" rx="5.9" ry="3.8" transform="rotate(-3.3 342.9 659.1)" fill="url(#lh)"/><ellipse cx="337.5" cy="634.6" rx="5.8" ry="3.7" transform="rotate(-3.9 337.5 634.6)" fill="url(#lh)"/><ellipse cx="354.7" cy="656.4" rx="5.9" ry="3.8" transform="rotate(-4.1 354.7 656.4)" fill="url(#lh)"/><ellipse cx="347.5" cy="632.3" rx="5.8" ry="3.7" transform="rotate(-3.8 347.5 632.3)" fill="url(#lh)"/><ellipse cx="366.3" cy="653.6" rx="5.9" ry="3.8" transform="rotate(-3.9 366.3 653.6)" fill="url(#lh)"/><ellipse cx="357.4" cy="630" rx="5.8" ry="3.7" transform="rotate(-3.9 357.4 630)" fill="url(#lh)"/><ellipse cx="378" cy="650.9" rx="5.9" ry="3.8" transform="rotate(-4 378 650.9)" fill="url(#lh)"/><ellipse cx="367.5" cy="627.5" rx="5.8" ry="3.7" transform="rotate(-4.2 367.5 627.5)" fill="url(#lh)"/><ellipse cx="389.4" cy="647.8" rx="5.9" ry="3.8" transform="rotate(-5.8 389.4 647.8)" fill="url(#lh)"/><ellipse cx="378.5" cy="624" rx="5.8" ry="3.7" transform="rotate(-6.9 378.5 624)" fill="url(#lh)"/><ellipse cx="399" cy="643.4" rx="5.9" ry="3.8" transform="rotate(-6.3 399 643.4)" fill="url(#lh)"/><ellipse cx="388.1" cy="619.6" rx="5.8" ry="3.7" transform="rotate(-7.5 388.1 619.6)" fill="url(#lh)"/><ellipse cx="410" cy="639.3" rx="5.9" ry="3.8" transform="rotate(-6.1 410 639.3)" fill="url(#lh)"/><ellipse cx="397.9" cy="615.1" rx="5.8" ry="3.7" transform="rotate(-7.3 397.9 615.1)" fill="url(#lh)"/><ellipse cx="420.7" cy="635.2" rx="5.9" ry="3.8" transform="rotate(-6.3 420.7 635.2)" fill="url(#lh)"/><ellipse cx="406" cy="611.5" rx="5.8" ry="3.7" transform="rotate(-7.2 406 611.5)" fill="url(#lh)"/><ellipse cx="428.8" cy="632.1" rx="5.9" ry="3.8" transform="rotate(-6.5 428.8 632.1)" fill="url(#lh)"/><ellipse cx="414" cy="607.9" rx="5.8" ry="3.7" transform="rotate(-7.1 414 607.9)" fill="url(#lh)"/><ellipse cx="437" cy="628.7" rx="5.9" ry="3.8" transform="rotate(-6.9 437 628.7)" fill="url(#lh)"/><ellipse cx="421.7" cy="604.6" rx="5.8" ry="3.7" transform="rotate(-7 421.7 604.6)" fill="url(#lh)"/><ellipse cx="445.4" cy="625" rx="5.9" ry="3.8" transform="rotate(-7.3 445.4 625)" fill="url(#lh)"/><ellipse cx="429.2" cy="601.4" rx="5.8" ry="3.7" transform="rotate(-6.9 429.2 601.4)" fill="url(#lh)"/><ellipse cx="454" cy="621" rx="5.9" ry="3.8" transform="rotate(-7.5 454 621)" fill="url(#lh)"/><ellipse cx="434.3" cy="599.2" rx="5.8" ry="3.7" transform="rotate(-7 434.3 599.2)" fill="url(#lh)"/><ellipse cx="459.9" cy="618.3" rx="5.9" ry="3.8" transform="rotate(-7.4 459.9 618.3)" fill="url(#lh)"/>
<ellipse cx="172.7" cy="421.4" rx="11.8" ry="9" fill="#a9ddb9"/>
<text x="172.9" y="425.2" font-size="9.8" text-anchor="middle" fill="#222">TPP</text>
<ellipse cx="170.2" cy="441" rx="12.5" ry="11.2" fill="#8fcdef"/>
<text transform="translate(172.3,444.2) rotate(-27)" font-size="9.8" text-anchor="middle" fill="#222">PDC</text>
<ellipse cx="138.7" cy="468" rx="25" ry="15.6" fill="#edf18c" stroke="#d3e694" stroke-width="1.3"/><text x="138.7" y="470.8" font-size="10.9" text-anchor="middle" fill="#222">Pyruvate</text>
<ellipse cx="225" cy="432.5" rx="29.2" ry="12.7" fill="#edf18c" stroke="#d3e694" stroke-width="1.3"/><text x="225" y="436.3" font-size="10.9" text-anchor="middle" fill="#222">Acetyl-CoA</text>
<ellipse cx="278.4" cy="472.6" rx="17.8" ry="13.2" fill="#edf18c" stroke="#d3e694" stroke-width="1.3"/><text x="278.4" y="476.2" font-size="10.9" text-anchor="middle" fill="#222">Citrate</text>
<ellipse cx="349.1" cy="480.3" rx="34.7" ry="13" fill="#edf18c" stroke="#d3e694" stroke-width="1.3"/><text x="349.1" y="483.6" font-size="10.9" text-anchor="middle" fill="#222">cis-aconitate</text>
<ellipse cx="363.4" cy="515.8" rx="25.3" ry="10" fill="#edf18c" stroke="#d3e694" stroke-width="1.3"/><text x="364.9" y="518.8" font-size="10.9" text-anchor="middle" fill="#222">Isocitrate</text>
<ellipse cx="364.2" cy="556" rx="17" ry="9.8" fill="#edf18c" stroke="#d3e694" stroke-width="1.3"/><text x="364.2" y="559.5" font-size="10.9" text-anchor="middle" fill="#222">α-KG</text>
<ellipse cx="353.3" cy="599.2" rx="30.8" ry="13.3" fill="#edf18c" stroke="#d3e694" stroke-width="1.3"/><text x="334.6" y="595.2" font-size="10.9" fill="#222">Succinyl</text><text x="334.6" y="607.8" font-size="10.9" fill="#222">-CoA</text>
<ellipse cx="291.1" cy="620.2" rx="26.4" ry="9.2" fill="#edf18c" stroke="#d3e694" stroke-width="1.3"/><text x="291.1" y="624.2" font-size="10.9" text-anchor="middle" fill="#222">Succinate</text>
<ellipse cx="224.2" cy="591.9" rx="27" ry="10.8" fill="#edf18c" stroke="#d3e694" stroke-width="1.3"/><text x="224.2" y="595" font-size="10.9" text-anchor="middle" fill="#222">Fumarate</text>
<ellipse cx="218" cy="545.2" rx="21.8" ry="10" fill="#edf18c" stroke="#d3e694" stroke-width="1.3"/><text x="218" y="549.1" font-size="10.9" text-anchor="middle" fill="#222">Malate</text>
<ellipse cx="224.5" cy="497.3" rx="35.8" ry="12.9" fill="#edf18c" stroke="#d3e694" stroke-width="1.3"/><text x="224.5" y="501.3" font-size="10.9" text-anchor="middle" fill="#222">Oxaloacetate</text>
<text x="292.8" y="548.8" font-size="12.1" font-weight="bold" text-anchor="middle" fill="#222">TCA Cycle</text>
<path d="M165.1 459.4L192.6 442.4" stroke="#111" stroke-width="2.1" fill="none"/><path d="M198 439.1L192.2 449.7L192.2 442.7L185.9 439.5Z" fill="#111"/>
<path d="M222.7 449.4C223.2 450.8 224.5 455.2 226 458C227.5 460.8 229.2 463.7 231.5 466C233.8 468.3 236.7 470.6 239.8 471.6C242.9 472.6 247.7 472 250 471.8C252.3 471.6 253.1 470.5 253.7 470.3" stroke="#111" stroke-width="2.0" fill="none" stroke-linecap="butt"/><path d="M261.4 469.2L249.5 477.9L253 470.4L247.6 464.1Z" fill="#111"/>
<path d="M234.6 481.4C235.2 480.7 237 478.3 238.5 477C240 475.7 241.8 474.5 243.5 473.6C245.2 472.8 248.1 472.2 249 471.9" stroke="#111" stroke-width="1.95" fill="none"/>
<path d="M296.3 465.7C297.6 465.8 301.6 465.9 304 466.5C306.4 467.1 309.7 468.5 311 469C312.3 469.5 311.8 469.4 311.9 469.5" stroke="#111" stroke-width="1.95" fill="none" stroke-linecap="butt"/><path d="M318.2 472.4L305.1 473.2L311.4 469.2L310.4 461.9Z" fill="#111"/>
<path d="M349.1 492.4C349.8 493.3 352.1 496.7 353 498C353.9 499.3 354.4 499.6 354.6 499.9" stroke="#111" stroke-width="1.95" fill="none" stroke-linecap="butt"/><path d="M358.3 505.8L346.9 499.4L354.3 499.5L357.5 492.7Z" fill="#111"/>
<path d="M362.8 525.8C363 527.2 363.8 532.3 364 534C364.2 535.7 364.1 535.7 364.2 536" stroke="#111" stroke-width="1.95" fill="none" stroke-linecap="butt"/><path d="M364.9 542.9L357.5 532.1L364.1 535.5L369.9 530.8Z" fill="#111"/>
<path d="M365.9 566.3C365.2 567.6 362.9 572.4 362 574C361.1 575.6 360.6 575.5 360.4 575.8" stroke="#111" stroke-width="1.95" fill="none" stroke-linecap="butt"/><path d="M356.7 581.7L357.5 568.6L360.7 575.4L368.1 575.3Z" fill="#111"/>
<path d="M336.6 611.9C335.7 612.7 332.9 615.4 331 616.5C329.1 617.6 326.1 618.4 325 618.8C323.9 619.2 324.7 619 324.7 619" stroke="#111" stroke-width="1.95" fill="none" stroke-linecap="butt"/><path d="M317.8 619.5L328.8 612.5L325.3 619L329.7 624.9Z" fill="#111"/>
<path d="M265.3 620.9C263.6 620.7 258.4 620.6 255 619.5C251.6 618.4 247.4 615.7 245 614C242.6 612.3 241.2 610.1 240.4 609.3" stroke="#111" stroke-width="1.95" fill="none" stroke-linecap="butt"/><path d="M235.1 604.9L247.9 607.5L240.8 609.7L239.9 617.1Z" fill="#111"/>
<path d="M219.1 580.9C218.7 579.6 217.4 575.8 216.5 573C215.6 570.2 214.4 565.9 213.8 564C213.2 562.1 213 562.2 212.8 561.8" stroke="#111" stroke-width="1.95" fill="none" stroke-linecap="butt"/><path d="M209.6 555.7L220.5 562.9L213.1 562.3L209.5 568.8Z" fill="#111"/>
<path d="M210.7 534.7C210.9 533.2 211.3 528.8 212 526C212.7 523.2 214.3 519.6 215 518C215.7 516.4 215.8 516.6 216 516.3" stroke="#111" stroke-width="1.95" fill="none" stroke-linecap="butt"/><path d="M219.2 510.2L219.3 523.3L215.7 516.8L208.3 517.4Z" fill="#111"/>
<path d="M79 559C82.8 558.8 85.8 559.8 88.5 561.5C91.2 563.2 95.2 566.2 95.5 569C95.8 571.8 92.6 574.5 90 578C87.4 581.5 83.3 585.8 80 590C76.7 594.2 73 599.4 70 603C67 606.6 64.8 610.3 62 611.5C59.2 612.7 55.5 611.9 53 610C50.5 608.1 47.8 603.8 47 600C46.2 596.2 46.7 591.5 48 587C49.3 582.5 52 577.1 55 573C58 568.9 62 564.8 66 562.5C70 560.2 75.2 559.2 79 559Z" fill="url(#gV)" stroke="#7ab52c" stroke-width="1"/>
<text x="63.5" y="583.4" font-size="10.5" text-anchor="middle" fill="#222">V</text>
<path d="M50.2 617.2L95.6 566.1" stroke="#111" stroke-width="2.1" fill="none"/><path d="M101.2 559.8L96.6 574.4L95.2 566.6L87.2 566.1Z" fill="#111"/>
<text x="59.6" y="535.9" font-size="8.4" fill="#222">ADP</text>
<text x="85.5" y="547.6" font-size="8.5" fill="#222">ATP</text>
<text x="102.8" y="560" font-size="8" fill="#222">H+</text>
<path d="M69.6 539.8C69.8 541 69.7 544.7 70.5 547C71.3 549.3 72.8 552 74.5 553.5C76.2 555 78.9 555.8 81 556C83.1 556.2 86.1 555.1 87.2 554.9" stroke="#111" stroke-width="1.9" fill="none" stroke-linecap="butt"/><path d="M91.6 551.8L86.7 560.4L86.8 555.2L81.8 553.5Z" fill="#111"/>
<text x="89.4" y="512.4" font-size="9.4" fill="#333">MItochondrial</text>
<text x="89.4" y="523.4" font-size="9.4" fill="#333">matrix</text>
<path d="M134.7 594C137.8 594.1 141.9 595.4 145 597.4C148.1 599.4 151.8 603.1 153.5 606C155.2 608.9 155 611.4 154.9 614.5C154.8 617.6 153.8 621.4 152.7 624.8C151.6 628.2 150.6 632 148.4 635.1C146.2 638.2 142.8 641.5 139.8 643.7C136.8 645.9 133.8 647.8 130.4 648.5C127 649.2 122.6 649 119.3 647.9C116 646.8 112.9 644.3 110.7 641.9C108.5 639.5 106.6 636.2 105.9 633.4C105.2 630.5 105.6 627.9 106.4 624.8C107.2 621.6 108.9 617.9 110.7 614.5C112.5 611.1 114.9 607.3 117.5 604.3C120.1 601.3 123.2 598.3 126.1 596.6C129 594.9 131.5 593.9 134.7 594Z" fill="url(#gIV)" stroke="#f2a45a" stroke-width="1.5"/>
<text x="132.4" y="623.2" font-size="10.5" text-anchor="middle" fill="#222">IV</text>
<path d="M139.5 591.4L101.3 640.5" stroke="#111" stroke-width="2.1" fill="none"/><path d="M96.1 647.1L99.8 632.2L101.7 639.9L109.6 639.9Z" fill="#111"/>
<text x="91" y="657.2" font-size="8" fill="#222">H+</text>
<text x="141.3" y="581.2" font-size="8.4" fill="#222">O<tspan font-size="6.4">2</tspan></text>
<text x="168.6" y="597.7" font-size="8.4" fill="#222">H<tspan font-size="6.4">2</tspan>O</text>
<path d="M145.3 586.3C145.5 587.4 145.7 590.8 146.5 593C147.3 595.2 148.4 598 150 599.5C151.6 601 154 601.7 156 602.2C158 602.7 160.8 602.6 161.7 602.7" stroke="#111" stroke-width="1.9" fill="none" stroke-linecap="butt"/><path d="M166.4 600L160.7 608.2L161.3 602.9L156.5 600.8Z" fill="#111"/>
<path d="M172.9 611.2 Q174.6 609.4 177 610.7 L202.6 626.2 Q205.6 628 204.2 630.6 Q192 640 184.6 650.6 Q180 660 181.3 670.4 Q180.6 673.6 177.6 672.3 L151 656.6 Q148.2 654.8 149.8 652.2 Q161 645 165.6 635 Q170 624 172.9 611.2Z" fill="url(#gIII)" stroke="#d469b6" stroke-width="1.2"/>
<text transform="translate(178.2,643.6) rotate(27)" font-size="10" text-anchor="middle" fill="#222" y="3.5">III</text>
<path d="M185.2 609.4L152.7 663.9" stroke="#111" stroke-width="2.1" fill="none"/><path d="M148.4 671.1L150.2 655.9L153.1 663.3L160.9 662.3Z" fill="#111"/>
<text x="136.2" y="659.6" font-size="8" fill="#222">e-</text>
<path d="M150.9 650.5L142.7 646" stroke="#111" stroke-width="1.8" fill="none"/><path d="M138.2 643.5L147.6 644.1L143 646.2L143.7 651.1Z" fill="#111"/>
<text x="142.2" y="679.4" font-size="8" fill="#222">H+</text>
<path d="M248.2 620.7C251.3 620.4 254.1 621.7 256.5 623.3C258.9 624.9 261.2 627 262.8 630.5C264.4 634 265.8 640.1 265.8 644.2C265.8 648.3 264.8 651.4 263 655C261.2 658.6 257.7 662.9 255 666C252.3 669.1 249.2 672 247 673.5C244.8 675 243.4 675.4 241.5 675C239.6 674.6 237.3 673.5 235.5 671C233.7 668.5 231.6 663.8 230.5 660C229.4 656.2 228.8 652 228.8 648C228.9 644 229.3 639.8 230.8 636C232.3 632.2 235.1 627.5 238 625C240.9 622.5 245.1 621 248.2 620.7Z" fill="url(#gS)" stroke="#7fba2c" stroke-width="1.6"/>
<text transform="translate(252.3,641.8) rotate(32)" font-size="10.2" text-anchor="middle" fill="#222" y="3.5">SDH</text>
<text transform="translate(245.4,653.4) rotate(32)" font-size="10.2" text-anchor="middle" fill="#222" y="3.5">II</text>
<path d="M225.2 645.3C225.7 646 227.8 647.9 228.4 649.5C229 651.1 229.4 653.2 229 655C228.6 656.8 226.8 659.4 226 660.5C225.2 661.6 224.5 661.5 224.2 661.7" stroke="#111" stroke-width="1.8" fill="none" stroke-linecap="butt"/><path d="M219.3 664L225.7 656.3L224.6 661.5L229.3 664Z" fill="#111"/>
<text x="215.6" y="654" font-size="6.5" fill="#222">e-</text>
<path d="M411.4 598.6C414.2 598.7 418 600.8 420.5 603.5C423 606.2 425.2 610.6 426.5 615C427.8 619.4 428.1 625 428.3 630C428.5 635 428.3 640.7 427.6 645C426.9 649.3 426.5 653.2 424.3 656C422.1 658.8 417.9 661.2 414.5 661.6C411.1 662 406.8 660.8 404.2 658.5C401.6 656.2 400.4 652.8 399.2 648C398 643.2 397.1 635.7 397 630C396.9 624.3 397.4 618.5 398.5 614C399.6 609.5 401.4 605.6 403.5 603C405.6 600.4 408.6 598.5 411.4 598.6Z" fill="url(#gI)" stroke="#9a5c2e" stroke-width="1.4"/>
<text x="413.4" y="630" font-size="10.5" text-anchor="middle" fill="#222">I</text>
<path d="M400.6 601.4L402 665.2" stroke="#111" stroke-width="2.0" fill="none"/><path d="M402.2 673.6L395.9 659.7L402 664.5L407.9 659.5Z" fill="#111"/>
<text x="397.8" y="685.2" font-size="8" fill="#222">H+</text>
<text x="389" y="588.7" font-size="8" fill="#222">NADH</text>
<text x="414.2" y="575.8" font-size="8" fill="#222">NAD+</text>
<path d="M401.2 592C401.8 592.7 403.2 595.1 404.5 596C405.8 596.9 407.3 597.8 409 597.6C410.7 597.4 412.6 596.5 414.5 595C416.4 593.5 419.7 589.5 420.7 588.4" stroke="#111" stroke-width="2.0" fill="none" stroke-linecap="butt"/><path d="M425.3 582.5L421.9 595.7L420.3 588.9L413.3 589Z" fill="#111"/>
<path d="M400.4 660.4C395.3 662.2 380.9 667.7 370 671C359.1 674.3 347.2 677.6 335 680C322.8 682.4 310 684.6 296.7 685.4C283.4 686.2 268.6 685.8 255 685C241.4 684.2 225.6 682.3 215 680.5C204.4 678.7 195.2 675.3 191.3 674.3" stroke="#111" stroke-width="1.9" fill="none" stroke-linecap="butt"/><path d="M184.6 672.6L197 670.3L191.9 674.4L194.5 680.5Z" fill="#111"/>
<text x="306.6" y="694.6" font-size="7.5" fill="#222">e-</text>
</g>
<g id="pd">
<text x="415.5" y="397.7" font-size="16" font-weight="bold" fill="#111" style="stroke:none">d</text>
<path d="M520.8 442.4V642.7H777" stroke="#000" stroke-width="1.5" fill="none"/>
<path d="M512.6 642.7H520.8" stroke="#000" stroke-width="1.5"/>
<text x="507.5" y="647.0" font-size="12" text-anchor="end">0</text>
<path d="M512.6 576.2H520.8" stroke="#000" stroke-width="1.5"/>
<text x="509.7" y="580.5" font-size="12" text-anchor="end">5</text>
<path d="M512.6 509.6H520.8" stroke="#000" stroke-width="1.5"/>
<text x="509.7" y="513.9" font-size="12" text-anchor="end">10</text>
<path d="M512.6 443.1H520.8" stroke="#000" stroke-width="1.5"/>
<text x="509.7" y="447.4" font-size="12" text-anchor="end">15</text>
<path d="M543.7 642.7V650.6" stroke="#000" stroke-width="1.5"/>
<text x="543.1" y="667.9" font-size="12" text-anchor="middle">0</text>
<path d="M578.8 642.7V650.6" stroke="#000" stroke-width="1.5"/>
<text x="576.7" y="667.9" font-size="12" text-anchor="middle">0.5</text>
<path d="M613.6 642.7V650.6" stroke="#000" stroke-width="1.5"/>
<text x="613.0" y="667.9" font-size="12" text-anchor="middle">1</text>
<path d="M648.4 642.7V650.6" stroke="#000" stroke-width="1.5"/>
<text x="646.3" y="667.9" font-size="12" text-anchor="middle">1.5</text>
<path d="M683.2 642.7V650.6" stroke="#000" stroke-width="1.5"/>
<text x="682.6" y="667.9" font-size="12" text-anchor="middle">2</text>
<path d="M718.1 642.7V650.6" stroke="#000" stroke-width="1.5"/>
<text x="716.0" y="667.9" font-size="12" text-anchor="middle">2.5</text>
<path d="M753.0 642.7V650.6" stroke="#000" stroke-width="1.5"/>
<text x="752.4" y="667.9" font-size="12" text-anchor="middle">3</text>
<text x="649.6" y="685.9" font-size="12.55" text-anchor="middle">Time (h) NC1 100 nM</text>
<text transform="translate(492.7,529.3) rotate(-90)" font-size="12.6" text-anchor="middle">Succinate/Fumarate ratio</text>
<path d="M531.9000000000001 610.6H555.5M543.7 608.6V612.6M538.2 608.6H549.2M538.2 612.6H549.2" stroke="#144a8a" stroke-width="1.6" fill="none"/>
<circle cx="535.2" cy="607.4" r="3.8" fill="#144a8a"/>
<circle cx="535.2" cy="614.5" r="3.8" fill="#144a8a"/>
<circle cx="544" cy="610.4" r="3.8" fill="#144a8a"/>
<circle cx="552.1" cy="610.8" r="3.8" fill="#144a8a"/>
<path d="M567.0 602.9H590.5999999999999M578.8 601.6V604.1999999999999M573.3 601.6H584.3M573.3 604.1999999999999H584.3" stroke="#2f78bd" stroke-width="1.6" fill="none"/>
<rect x="566.6" y="600.5" width="7.6" height="7.6" rx="0.6" fill="#2f78bd"/>
<rect x="571.5" y="596.5" width="7.6" height="7.6" rx="0.6" fill="#2f78bd"/>
<rect x="577.2" y="599.9" width="7.6" height="7.6" rx="0.6" fill="#2f78bd"/>
<rect x="583.3" y="599.3" width="7.6" height="7.6" rx="0.6" fill="#2f78bd"/>
<path d="M602.0 603.1H625.2M613.6 601.4V604.8000000000001M608.1 601.4H619.1M608.1 604.8000000000001H619.1" stroke="#6aaed8" stroke-width="1.6" fill="none"/>
<path d="M605 601.9L609.2 609.3H600.8Z" fill="#6aaed8"/>
<path d="M613.1 594.2L617.3 601.6H608.9Z" fill="#6aaed8"/>
<path d="M617.2 598.7L621.4 606.1H613.0Z" fill="#6aaed8"/>
<path d="M621.6 599.3L625.8 606.7H617.4Z" fill="#6aaed8"/>
<path d="M636.8 584.0H660.0M648.4 582.8V585.2M642.9 582.8H653.9M642.9 585.2H653.9" stroke="#f9a88c" stroke-width="1.6" fill="none"/>
<path d="M639.9 591.4L644.1 584.0H635.7Z" fill="#f9a88c"/>
<path d="M647 586.4L651.2 579.0H642.8Z" fill="#f9a88c"/>
<path d="M653.2 588.8L657.4 581.4H649.0Z" fill="#f9a88c"/>
<path d="M657.8 587.2L662.0 579.8H653.6Z" fill="#f9a88c"/>
<path d="M671.6 566.0H694.8000000000001M683.2 564.5V567.5M677.7 564.5H688.7M677.7 567.5H688.7" stroke="#e0775c" stroke-width="1.6" fill="none"/>
<path d="M675.2 558.2L679.2 562.2L675.2 566.2L671.2 562.2Z" fill="#e0775c"/>
<path d="M675.2 565.5L679.2 569.5L675.2 573.5L671.2 569.5Z" fill="#e0775c"/>
<path d="M683.7 561.9L687.7 565.9L683.7 569.9L679.7 565.9Z" fill="#e0775c"/>
<path d="M692.2 562.6L696.2 566.6L692.2 570.6L688.2 566.6Z" fill="#e0775c"/>
<path d="M706.5 521.5H729.7M718.1 512.5V530.5M712.5 512.5H723.7M712.5 530.5H723.7" stroke="#c0182c" stroke-width="1.5" fill="none"/>
<circle cx="717.9" cy="493.8" r="3.6" fill="#c0182c"/>
<circle cx="709.6" cy="530.2" r="3.6" fill="#c0182c"/>
<circle cx="717.9" cy="529.5" r="3.6" fill="#c0182c"/>
<circle cx="726.6" cy="530.2" r="3.6" fill="#c0182c"/>
<path d="M741.4 471.5H764.6M753.0 470.2V472.8M747.5 470.2H758.5M747.5 472.8H758.5" stroke="#6b0a24" stroke-width="1.6" fill="none"/>
<polygon points="747.9,470.9 744.3,473.0 740.7,470.9 740.7,466.7 744.3,464.6 747.9,466.7" fill="#6b0a24"/>
<polygon points="747.9,475.8 744.3,477.9 740.7,475.8 740.7,471.6 744.3,469.5 747.9,471.6" fill="#6b0a24"/>
<polygon points="756.4,473.3 752.8,475.4 749.2,473.3 749.2,469.1 752.8,467.0 756.4,469.1" fill="#6b0a24"/>
<polygon points="764.9,474.6 761.3,476.7 757.7,474.6 757.7,470.4 761.3,468.3 764.9,470.4" fill="#6b0a24"/>
<text x="546.4" y="584" font-size="10.3" fill="#222" style="stroke:none">p = 0.0054</text>
<text x="593.6" y="592.5" font-size="10.3" fill="#222" style="stroke:none">p = 0.021</text>
<text x="618.0" y="576.0" font-size="10" fill="#222" style="stroke:none">p</text>
<path d="M635.0 569.6L628.2 572.5L635.0 575.4" stroke="#222" stroke-width="0.8" fill="none"/>
<text x="639.0" y="576.0" font-size="10" fill="#222" style="stroke:none">0.0001</text>
<text x="658.9" y="552.0999999999999" font-size="10" fill="#222" style="stroke:none">p</text>
<path d="M675.9 545.7L669.1 548.6L675.9 551.5" stroke="#222" stroke-width="0.8" fill="none"/>
<text x="679.9" y="552.0999999999999" font-size="10" fill="#222" style="stroke:none">0.0001</text>
<text x="688.0" y="486.1" font-size="10" fill="#222" style="stroke:none">p</text>
<path d="M705.0 479.7L698.2 482.6L705.0 485.5" stroke="#222" stroke-width="0.8" fill="none"/>
<text x="709.0" y="486.1" font-size="10" fill="#222" style="stroke:none">0.0001</text>
<text x="729.0" y="458.0" font-size="10" fill="#222" style="stroke:none">p</text>
<path d="M746.0 451.6L739.2 454.5L746.0 457.4" stroke="#222" stroke-width="0.8" fill="none"/>
<text x="750.0" y="458.0" font-size="10" fill="#222" style="stroke:none">0.0001</text>
</g>
</svg>
</body></html>
